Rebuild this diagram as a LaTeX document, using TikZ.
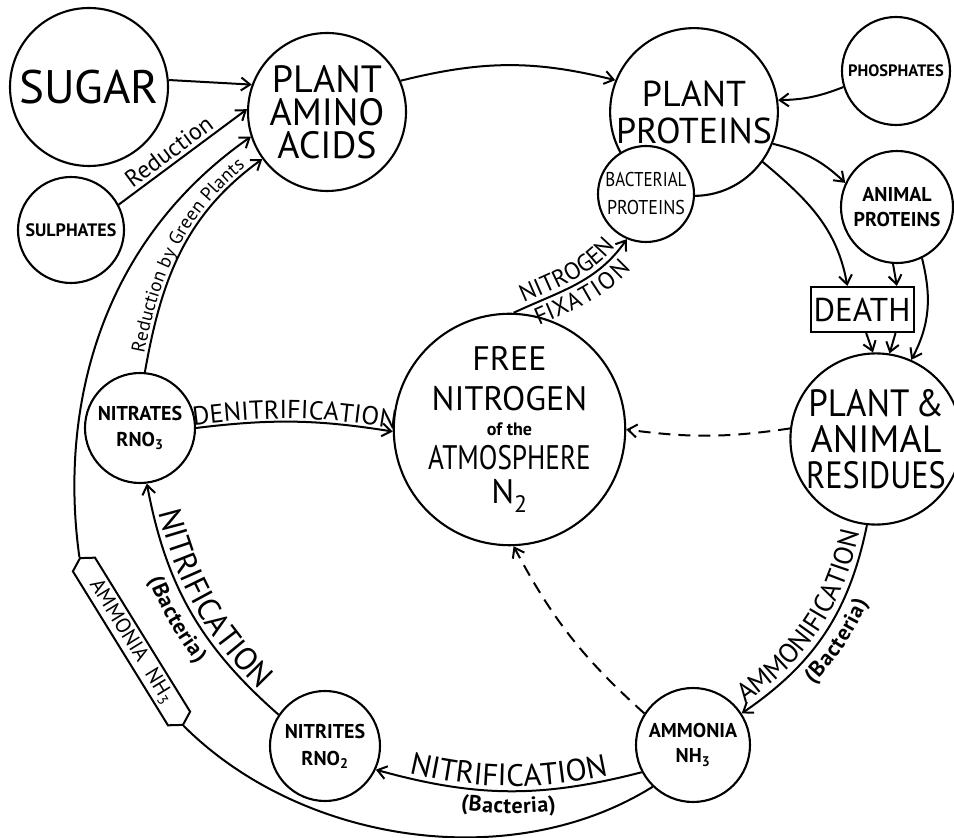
\documentclass[tikz,border=0pt]{standalone}
\usepackage{fontspec}
\setmainfont{PT Sans}
\usepackage{graphicx}
\usetikzlibrary{arrows.meta,decorations.text,shapes.symbols}

\newcommand{\setsz}[2]{\fontsize{#1}{#2}\selectfont}
\newcommand{\sq}[2]{\scalebox{#1}[1]{#2}}

\tikzset{
  cyc/.style={draw, circle, fill=white, line width=2.1pt, inner sep=0pt, align=center},
  big/.style={cyc, minimum size=158pt},
  flow/.style={line width=2pt},
  loss/.style={flow, dash pattern=on 12pt off 8pt},
  along/.style 2 args={postaction={decorate, decoration={text along path,
      text align=center, raise=#1, text={#2}}}},
  hexlab/.style={draw, fill=white, line width=2pt, signal, signal to=east and west,
      signal pointer angle=120, minimum width=196pt, minimum height=26pt,
      inner sep=1pt, font=\setsz{21}{21}},
  >={Straight Barb[length=9pt,width=13pt]}
}

\begin{document}
\begin{tikzpicture}[x=1pt, y=1pt]
\useasboundingbox (0,0) rectangle (954,838);

% Kreise
\node[big, font=\setsz{47}{47}] (sugar) at (89,751) {SUGAR};
\node[big, font=\setsz{38}{33}] (amino) at (327,726) {PLANT\\AMINO\\ACIDS};
\node[cyc, minimum size=106pt, font=\bfseries\setsz{18}{18}] (sulph) at (71,608) {SULPHATES};
\node[big, font=\setsz{36}{37}] (plprot) at (694,726) {PLANT\\PROTEINS};
\node[cyc, minimum size=108pt, font=\bfseries\setsz{16.5}{16.5}] (phos) at (896,767) {PHOSPHATES};
\node[cyc, minimum size=96pt, font=\setsz{20}{28}] (bactprot) at (646,644) {\sq{0.85}{BACTERIAL}\\\sq{0.9}{PROTEINS}};
\node[cyc, minimum size=112pt, font=\bfseries\setsz{20}{25}] (animprot) at (897,631) {ANIMAL\\PROTEINS};
\node[draw, line width=2pt, minimum width=103pt, minimum height=45pt, inner sep=0pt,
  font=\setsz{33}{33}] (death) at (862,528.5) {DEATH};
\node[big, font=\setsz{38}{36}] (resid) at (876,399) {\sq{0.92}{PLANT\,\&}\\ANIMAL\\\sq{0.85}{RESIDUES}};
\node[cyc, minimum size=188pt, font=\setsz{34}{34}] (freen) at (509.5,408.5)
  {FREE\\[6pt]NITROGEN\\[-9pt]{\bfseries\setsz{18}{18}of the}\\\sq{0.8}{ATMOSPHERE}\\N\textsubscript{2}};
\node[cyc, minimum size=110pt, font=\bfseries\setsz{20}{26}] (nitrates) at (140,410) {NITRATES\\RNO\textsubscript{3}};
\node[cyc, minimum size=110pt, font=\bfseries\setsz{20}{27}] (nitrites) at (325,92) {NITRITES\\RNO\textsubscript{2}};
\node[cyc, minimum size=114pt, font=\bfseries\setsz{20}{25}] (ammonia) at (693,93) {AMMONIA\\NH\textsubscript{3}};
\node[hexlab, rotate=-58.3] (amlabel) at (131.5,196.5) {AMMONIA\hspace{12pt}NH\textsubscript{3}};

% Zufluesse zu den Aminosaeuren
\draw[flow,->] (sugar.5) -- (amino.160);
\draw[flow,->] (sulph.28) -- node[sloped, above, pos=0.45, font=\setsz{24}{24}] (redlbl) {Reduction} (amino.178);
\draw[flow,->, along={4pt}{|\setsz{19}{19}|Reduction by Green Plants}] (nitrates.85) to[out=80,in=216] (amino.216);
\draw[flow] (ammonia.226) to[out=212,in=-45,looseness=0.9] (amlabel.east);
\draw[flow,->] (amlabel.west) to[out=98,in=215,out looseness=0.79,in looseness=1.08] (amino.198);

% Proteine und Tod
\draw[flow,->] (amino.23) to[out=14,in=166] (plprot.158);
\draw[flow,->] (phos.197) to[bend left=10] (plprot.8);
\draw[flow,->] (plprot.-22) to[bend left=15] (animprot.155);
\draw[flow,->] (plprot.-36) to[out=-40,in=100] (death.122);
\draw[flow,->] (animprot.-94) -- (death.34);
\draw[flow,->] (animprot.-64) to[out=-76,in=62] (resid.66);
\draw[flow,->] (death.-80) -- (resid.92);
\draw[flow,->] (death.-35) -- (resid.81);

% Stickstoff
\draw[flow,->, along={5pt}{|\setsz{24}{24}|NITROGEN}, along={-22pt}{|\setsz{24}{24}|FIXATION}]
  (freen.88) to[out=25,in=235] (bactprot.247);
\draw[flow,->, along={3pt}{|\setsz{26}{26}|DENITRIFICATION}] (nitrates.0) to[bend left=8] (freen.181);
\draw[loss,->] (resid.173) to[bend left=8] (freen.0);
\draw[loss,->] (ammonia.147) to[bend left=10] (freen.-88);

% Ammonifikation und Nitrifikation
\draw[flow,<-, along={6pt}{|\setsz{27}{27}|AMMONIFICATION}, along={-23pt}{|\bfseries\setsz{22}{22}|(Bacteria)}]
  (ammonia.33) to[bend right=22] (resid.264);
\draw[flow,<-, along={5pt}{|\setsz{31}{31}|NITRIFICATION}, along={-22pt}{|\bfseries\setsz{22}{22}|(Bacteria)}]
  (nitrites.-25) to[bend right=15] (ammonia.208);
\draw[flow,<-, along={6pt}{|\setsz{32}{32}|NITRIFICATION}, along={-24pt}{|\bfseries\setsz{22}{22}|(Bacteria)}]
  (nitrates.-83) to[bend right=19] (nitrites.146);
\end{tikzpicture}
\end{document}
